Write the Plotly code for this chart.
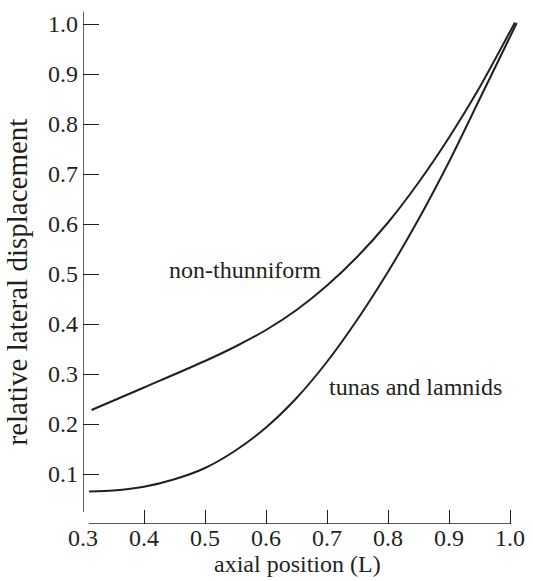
import plotly.graph_objects as go

# Data
non_thunniform_x = [0.314, 0.40, 0.50, 0.55, 0.60, 0.65, 0.70, 0.75, 0.80, 0.85, 0.90, 0.95, 1.008]
non_thunniform_y = [0.228, 0.273, 0.326, 0.355, 0.388, 0.428, 0.477, 0.535, 0.603, 0.683, 0.773, 0.873, 1.003]

tunas_x = [0.310, 0.35, 0.40, 0.45, 0.50, 0.55, 0.60, 0.65, 0.70, 0.75, 0.80, 0.85, 0.90, 0.95, 1.011]
tunas_y = [0.065, 0.067, 0.0745, 0.0895, 0.112, 0.147, 0.193, 0.252, 0.3245, 0.4095, 0.5045, 0.6095, 0.7245, 0.8495, 1.002]

x_ticks = [0.3, 0.4, 0.5, 0.6, 0.7, 0.8, 0.9, 1.0]
x_tick_marks = [0.4, 0.5, 0.6, 0.7, 0.8, 0.9, 1.0]
y_ticks = [0.1, 0.2, 0.3, 0.4, 0.5, 0.6, 0.7, 0.8, 0.9, 1.0]

labels = ["non-thunniform", "tunas and lamnids"]
label_x = [0.566, 0.845]
label_y = [0.508, 0.274]

FONT = "Liberation Serif, Times New Roman, serif"
INK = "#231f20"

fig = go.Figure()
fig.add_trace(go.Scatter(x=non_thunniform_x, y=non_thunniform_y, mode="lines",
                         line=dict(color=INK, width=2, shape="spline", smoothing=0.8),
                         name=labels[0], showlegend=False, hoverinfo="skip"))
fig.add_trace(go.Scatter(x=tunas_x, y=tunas_y, mode="lines",
                         line=dict(color=INK, width=2, shape="spline", smoothing=0.8),
                         name=labels[1], showlegend=False, hoverinfo="skip"))
# empty trace to carry tick marks on overlay axis
fig.add_trace(go.Scatter(x=[], y=[], xaxis="x2", yaxis="y", showlegend=False))

for t, xx, yy in zip(labels, label_x, label_y):
    fig.add_annotation(x=xx, y=yy, xref="x", yref="y", text=t, showarrow=False,
                       font=dict(family=FONT, size=24, color=INK),
                       xanchor="center", yanchor="middle")

# axis titles
fig.add_annotation(x=0.49, xref="paper", y=-0.078, yref="paper",
                   text="axial position (L)", showarrow=False,
                   font=dict(family=FONT, size=24, color=INK), xanchor="center", yanchor="middle")
fig.add_annotation(x=-0.152, xref="paper", y=0.471, yref="paper",
                   text="relative lateral displacement", showarrow=False, textangle=-90,
                   font=dict(family=FONT, size=29, color=INK), xanchor="center", yanchor="middle")

# detached axis lines
fig.add_shape(type="line", xref="x", yref="y", x0=0.3, x1=0.3, y0=0.024, y1=1.025,
              line=dict(color=INK, width=1.4))
fig.add_shape(type="line", xref="x", yref="y", x0=0.3097, x1=1.0, y0=0, y1=0,
              line=dict(color=INK, width=1.4))

fig.update_layout(
    width=533, height=581,
    margin=dict(l=83, r=8, t=10, b=57),
    paper_bgcolor="white", plot_bgcolor="white",
    font=dict(family=FONT, size=24, color=INK),
    xaxis=dict(range=[0.3, 1.0163], tickvals=x_ticks, tickformat=".1f", ticks="",
               showgrid=False, zeroline=False, showline=False, ticklabelstandoff=-3,
               tickfont=dict(family=FONT, size=24, color=INK)),
    xaxis2=dict(overlaying="x", matches="x", anchor="y", range=[0.3, 1.0163],
                tickvals=x_tick_marks, ticks="inside", ticklen=14, tickwidth=1.4,
                tickcolor=INK, showticklabels=False, showgrid=False, zeroline=False,
                showline=False, side="bottom"),
    yaxis=dict(range=[0, 1.028], tickvals=y_ticks, tickformat=".1f", ticks="inside",
               ticklen=16, tickwidth=1.4, tickcolor=INK, ticklabelstandoff=4,
               showgrid=False, zeroline=False, showline=False,
               tickfont=dict(family=FONT, size=24, color=INK)),
)

fig.write_html("out.html")
